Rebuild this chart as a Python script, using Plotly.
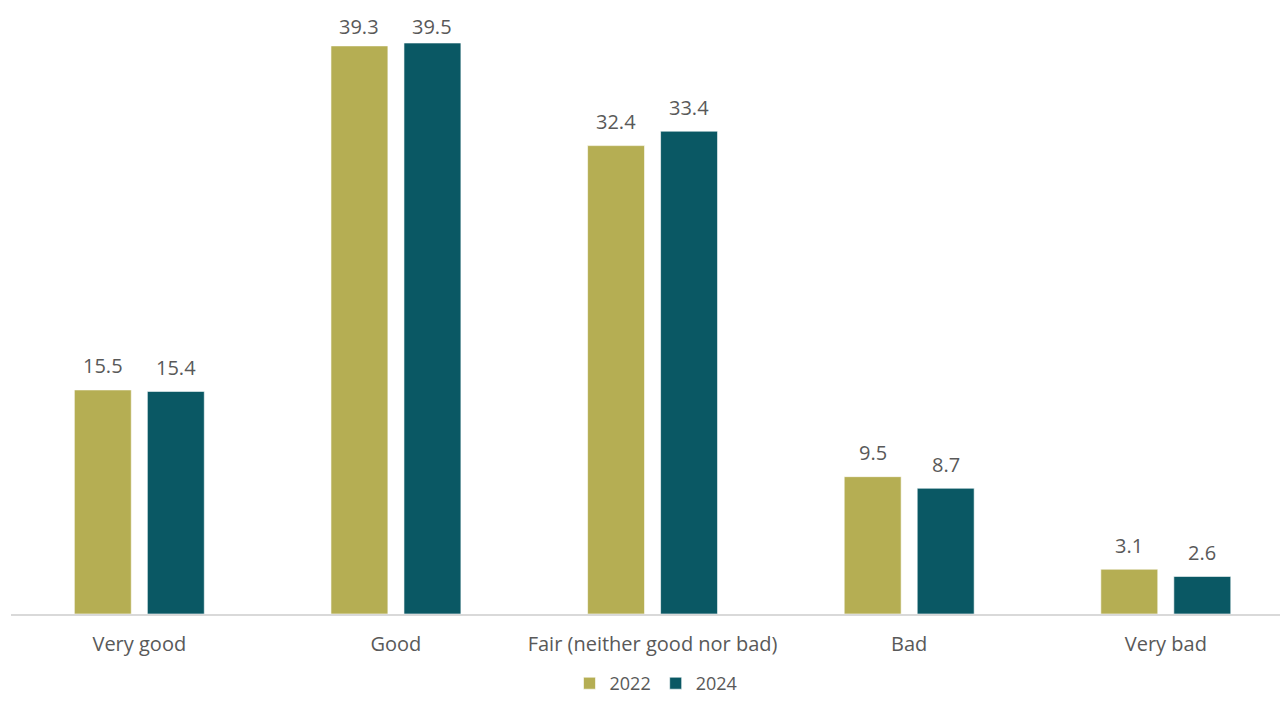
import plotly.graph_objects as go

categories = ["Very good", "Good", "Fair (neither good nor bad)", "Bad", "Very bad"]
values_2022 = [15.5, 39.3, 32.4, 9.5, 3.1]
values_2024 = [15.4, 39.5, 33.4, 8.7, 2.6]
series_names = ["2022", "2024"]
colors = ["#B5AE53", "#0A5864"]

FONT = "Open Sans, Noto Sans, sans-serif"
TEXT_COLOR = "#595959"
FS = 20
Y_MAX = 41.09
LABEL_CAP = 39.0  # labels of the tallest bars stay inside the chart area

fig = go.Figure()
for name, vals, col in zip(series_names, [values_2022, values_2024], colors):
    fig.add_trace(go.Bar(
        name=name, x=categories, y=vals,
        marker=dict(color=col, line=dict(color="rgba(255,255,255,0.6)", width=1)),
    ))

# value labels above each bar, offset to the bar's slot within the group
slot_px = 36.5
for offsets, vals in zip([-slot_px, slot_px], [values_2022, values_2024]):
    for cat, v in zip(categories, vals):
        fig.add_annotation(
            x=cat, y=min(v, LABEL_CAP), xref="x", yref="y", text=f"{v:.1f}",
            showarrow=False, xshift=offsets, yshift=24, yanchor="middle",
            font=dict(family=FONT, size=FS, color=TEXT_COLOR),
        )

fig.update_layout(
    width=1280, height=702,
    margin=dict(l=11, r=0, t=20, b=88, autoexpand=False),
    paper_bgcolor="white", plot_bgcolor="white",
    barmode="group", bargap=0.431, bargroupgap=0.22,
    showlegend=True,
    legend=dict(
        orientation="h", x=0.5125, xanchor="center", xref="container",
        y=0, yanchor="bottom", yref="container",
        font=dict(family=FONT, size=18, color=TEXT_COLOR),
        itemwidth=30, traceorder="normal",
    ),
    font=dict(family=FONT, color=TEXT_COLOR),
)
fig.update_xaxes(
    range=[-0.5, 4.445], showgrid=False, showline=True, linecolor="#D9D9D9", linewidth=2,
    ticks="outside", ticklen=11, tickcolor="rgba(0,0,0,0)", tickangle=0, automargin=False,
    tickfont=dict(family=FONT, size=FS, color=TEXT_COLOR),
)
fig.update_yaxes(range=[0, Y_MAX], visible=False, showgrid=False, zeroline=False)

fig.write_html("out.html")
